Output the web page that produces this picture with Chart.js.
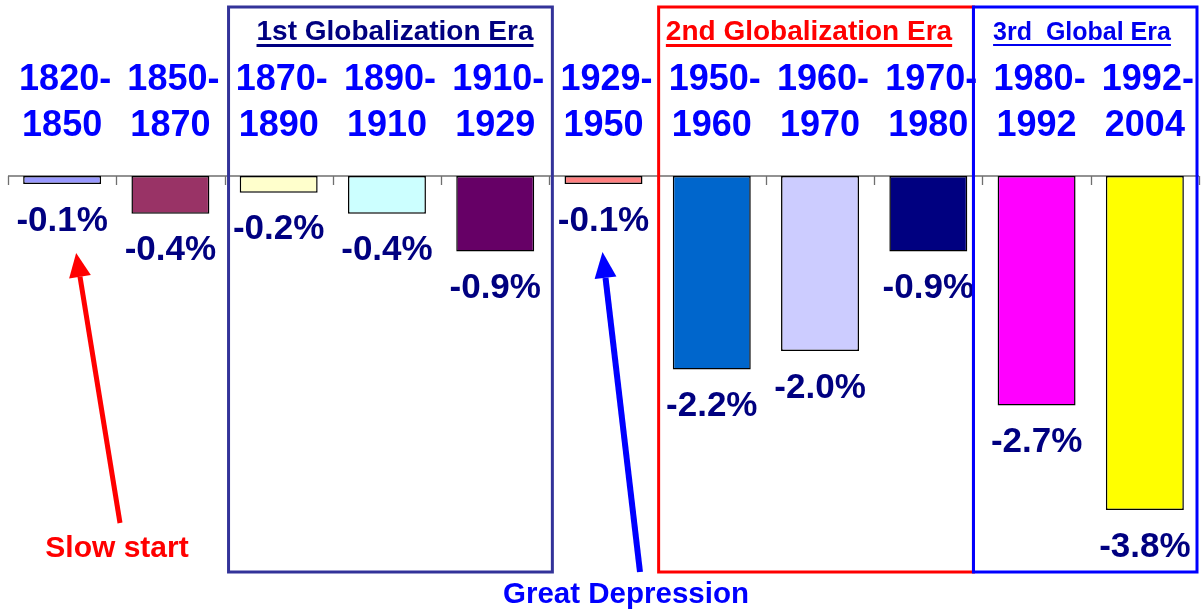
<!DOCTYPE html>
<html>
<head>
<meta charset="utf-8">
<script src="https://cdn.jsdelivr.net/npm/chart.js@4/dist/chart.umd.min.js"></script>
<style>
html,body{margin:0;padding:0;background:#fff;}
canvas{display:block;}
</style>
</head>
<body>
<canvas id="c" width="1203" height="613"></canvas>
<script>
const periodStart = ["1820-","1850-","1870-","1890-","1910-","1929-","1950-","1960-","1970-","1980-","1992-"];
const periodEnd   = ["1850","1870","1890","1910","1929","1950","1960","1970","1980","1992","2004"];
const values      = [-0.09,-0.43,-0.19,-0.43,-0.86,-0.09,-2.2,-1.99,-0.86,-2.61,-3.8];
const valueLabels = ["-0.1%","-0.4%","-0.2%","-0.4%","-0.9%","-0.1%","-2.2%","-2.0%","-0.9%","-2.7%","-3.8%"];
const barColors   = ["#9999ff","#993366","#ffffcc","#ccffff","#660066","#ff8080","#0066cc","#ccccff","#000080","#ff00ff","#ffff00"];
const eraTitles   = ["1st Globalization Era","2nd Globalization Era","3rd  Global Era"];
const notes       = ["Slow start","Great Depression"];

const FONT = '"Liberation Sans", Arial, sans-serif';

const decor = {
  id: 'decor',
  beforeDatasetsDraw(chart) {
    const ctx = chart.ctx, x = chart.scales.x, y = chart.scales.y;
    const y0 = y.getPixelForValue(0);
    const step = (x.right - x.left) / periodStart.length;
    ctx.save();
    ctx.strokeStyle = '#6f6f6f';
    ctx.lineWidth = 1.3;
    ctx.beginPath();
    ctx.moveTo(x.left, y0); ctx.lineTo(x.right, y0);
    for (let i = 0; i <= periodStart.length; i++) {
      const px = Math.round(x.left + i * step) + 0.5;
      ctx.moveTo(px, y0); ctx.lineTo(px, y0 + 9);
    }
    ctx.stroke();
    ctx.restore();
  },
  afterDraw(chart) {
    const ctx = chart.ctx, x = chart.scales.x, y = chart.scales.y;
    const step = (x.right - x.left) / periodStart.length;
    const edge = i => x.left + i * step;
    ctx.save();
    // category labels
    ctx.fillStyle = '#0000ff';
    ctx.font = 'bold 36px ' + FONT;
    ctx.textAlign = 'center';
    ctx.textBaseline = 'alphabetic';
    periodStart.forEach((s, i) => {
      const cx = x.getPixelForValue(i);
      ctx.fillText(s, cx + 3, 90);
      ctx.fillText(periodEnd[i], cx, 136);
    });
    // value labels
    ctx.fillStyle = '#000080';
    ctx.font = 'bold 35px ' + FONT;
    ctx.textBaseline = 'middle';
    values.forEach((v, i) => {
      ctx.fillText(valueLabels[i], x.getPixelForValue(i), y.getPixelForValue(v) + 37);
    });
    // era boxes
    const boxes = [
      {l: edge(2) + 4, r: edge(5) + 3, c: '#333399', w: 3, title: eraTitles[0], tc: '#000080', fs: 28, tx: 395, ul: 3},
      {l: edge(6) + 1, r: edge(9) - 9, c: '#ff0000', w: 3, title: eraTitles[1], tc: '#ff0000', fs: 28, tx: 809, ul: 3},
      {l: edge(9) - 9, r: edge(11) - 2, c: '#0000ff', w: 3, title: eraTitles[2], tc: '#0000ee', fs: 25, tx: 1082, ul: 2}
    ];
    boxes.forEach(b => {
      ctx.strokeStyle = b.c;
      ctx.lineWidth = b.w;
      ctx.strokeRect(b.l, 7, b.r - b.l, 565);
    });
    boxes.forEach(b => {
      ctx.fillStyle = b.tc;
      ctx.font = 'bold ' + b.fs + 'px ' + FONT;
      ctx.textAlign = 'center';
      ctx.textBaseline = 'alphabetic';
      ctx.fillText(b.title, b.tx, 40);
      const w = ctx.measureText(b.title).width;
      ctx.fillRect(b.tx - w / 2, 44, w, b.ul);
    });
    // arrows
    function arrow(x1, y1, x2, y2, color, lw, hl, hw) {
      const a = Math.atan2(y2 - y1, x2 - x1);
      const bx = x2 - hl * Math.cos(a), by = y2 - hl * Math.sin(a);
      ctx.strokeStyle = color; ctx.fillStyle = color; ctx.lineWidth = lw;
      ctx.beginPath(); ctx.moveTo(x1, y1); ctx.lineTo(bx, by); ctx.stroke();
      ctx.beginPath();
      ctx.moveTo(x2, y2);
      ctx.lineTo(bx + hw / 2 * Math.sin(a), by - hw / 2 * Math.cos(a));
      ctx.lineTo(bx - hw / 2 * Math.sin(a), by + hw / 2 * Math.cos(a));
      ctx.closePath(); ctx.fill();
    }
    arrow(120, 523, x.getPixelForValue(0) + 14, 253, '#ff0000', 5, 24, 22);
    arrow(640, 572, x.getPixelForValue(5) - 1, 252, '#0000ff', 6, 26, 22);
    ctx.textAlign = 'center';
    ctx.textBaseline = 'alphabetic';
    ctx.font = 'bold 30px ' + FONT;
    ctx.fillStyle = '#ff0000';
    ctx.fillText(notes[0], 117, 557);
    ctx.fillStyle = '#0000ff';
    ctx.font = 'bold 29.5px ' + FONT;
    ctx.fillText(notes[1], 626, 603);
    ctx.restore();
  }
};

new Chart(document.getElementById('c'), {
  type: 'bar',
  data: {
    labels: periodStart.map((s, i) => s + periodEnd[i]),
    datasets: [{
      data: values,
      backgroundColor: barColors,
      borderColor: '#000000',
      borderWidth: 1.5,
      borderSkipped: false,
      barPercentage: 0.72,
      categoryPercentage: 1.0
    }]
  },
  options: {
    responsive: false,
    animation: false,
    layout: {padding: {left: 8, right: 4, top: 176, bottom: 15}},
    plugins: {legend: {display: false}, tooltip: {enabled: false}},
    scales: {
      x: {display: false, offset: true},
      y: {display: false, min: -4.8, max: 0}
    }
  },
  plugins: [decor]
});
</script>
</body>
</html>
